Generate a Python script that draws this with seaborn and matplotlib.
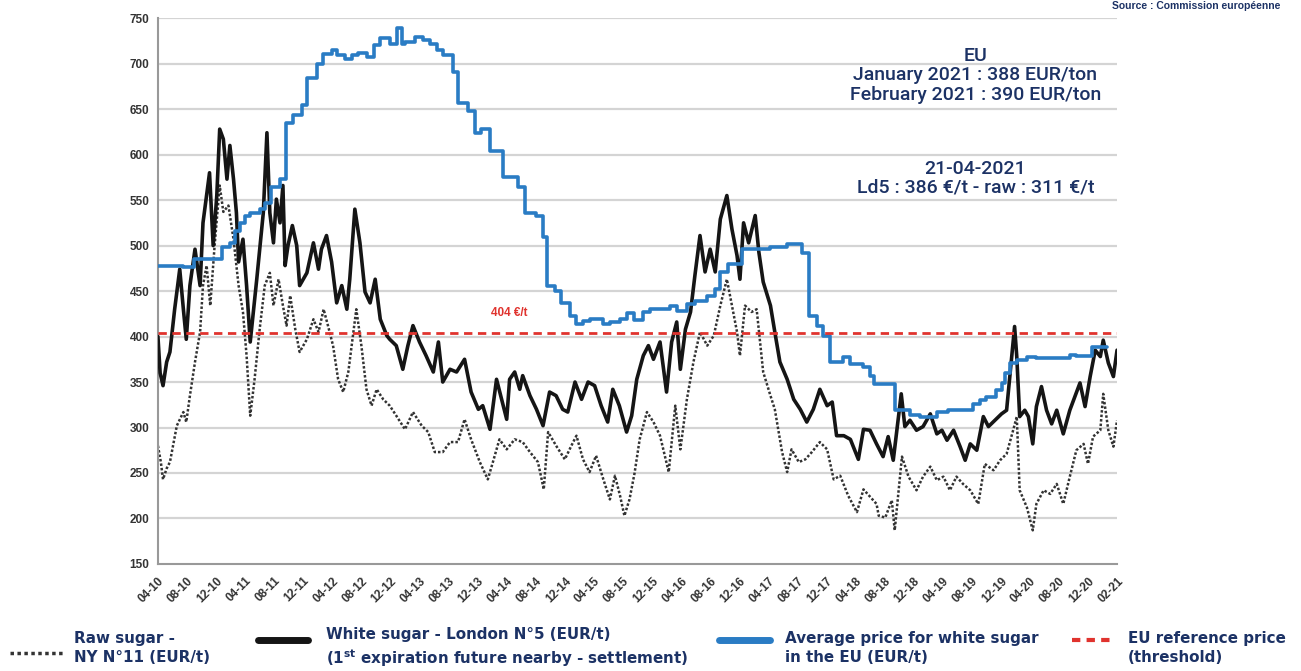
import matplotlib
matplotlib.use("Agg")
import matplotlib.pyplot as plt
import pandas as pd
import seaborn as sns
from matplotlib.lines import Line2D

# months since April 2010
white_month = [0, 0.3, 0.7, 1.2, 1.65, 2.3, 3, 3.5, 3.9, 4.4, 5.1, 5.8, 6.2, 7.1, 7.6, 8.1, 8.5, 9, 9.5, 9.9,
               10.4, 10.8, 11.1, 11.7, 12.2, 12.7, 13.6, 14.5, 15, 15.4, 15.9, 16.3, 16.8, 17.2, 17.5, 17.9,
               18.5, 19.1, 19.5, 20.5, 21.4, 22.1, 22.5, 23.2, 23.9, 24.6, 25.3, 26, 26.4, 27.1, 27.8, 28.5,
               29.2, 29.9, 30.6, 31.5, 31.9, 32.8, 33.7, 34.4, 35.1, 36, 36.9, 37.9, 38.6, 39.2, 40.2, 41.1,
               42.2, 43.1, 44.1, 44.7, 45.7, 46.6, 47.3, 48, 48.4, 49.1, 49.8, 50.2, 51.2, 52.1, 53, 53.9,
               54.8, 55.7, 56.4, 57.4, 58.3, 59.2, 60.1, 61, 61.9, 62.6, 63.5, 64.5, 65.2, 65.9, 66.8, 67.5,
               68.2, 69.1, 70, 70.7, 71.4, 71.9, 72.6, 73.3, 73.9, 74.6, 75.3, 76, 76.7, 77.4, 78.3, 79,
               79.7, 80.1, 80.6, 81.3, 82.2, 82.7, 83.3, 84.3, 84.9, 85.6, 86.6, 87.5, 88.4, 89.3, 90.2,
               91.1, 92.1, 92.8, 93.4, 94.4, 95.3, 96.4, 97.1, 98, 98.9, 99.8, 100.5, 101.2, 101.7, 102.3,
               102.8, 103.5, 104.4, 105.3, 106.3, 107.2, 107.9, 108.6, 109.5, 110.4, 111.1, 111.8, 112.7,
               113.6, 114.3, 115.2, 116.1, 116.8, 117.5, 117.9, 118.2, 118.6, 119.3, 119.8, 120.4, 120.9,
               121.6, 122.3, 123, 123.7, 124.6, 125.5, 126.2, 126.9, 127.6, 128.3, 129, 129.7, 130.1,
               130.8, 131.5, 132]
white_price = [400, 360, 346, 372, 383, 430, 474, 430, 397, 456, 496, 456, 525, 580, 500, 555, 628, 617, 573, 610,
               573, 536, 482, 507, 456, 394, 463, 536, 624, 536, 503, 551, 525, 566, 478, 500,
               522, 500, 456, 470, 503, 474, 496, 511, 482, 437, 456, 430, 463, 540, 503, 449,
               437, 463, 419, 401, 397, 390, 364, 390, 412, 394, 379, 361, 394, 350, 364, 361,
               375, 339, 320, 324, 298, 353, 331, 309, 353, 361, 342, 357, 335, 320, 302, 339,
               335, 320, 317, 350, 331, 350, 346, 324, 306, 342, 324, 295, 313, 353, 379, 390,
               375, 394, 339, 394, 416, 364, 408, 427, 467, 511, 471, 496, 471, 529, 555, 518,
               489, 463, 525, 503, 533, 493, 460, 434, 405, 372, 353, 331, 320, 306, 320,
               342, 324, 328, 291, 291, 287, 265, 298, 297, 282, 268, 290, 264, 297, 337,
               301, 308, 297, 301, 315, 293, 297, 286, 297, 279, 264, 282, 275,
               312, 301, 308, 315, 319, 378, 411, 378, 312, 319, 312, 282, 323,
               345, 319, 304, 319, 293, 319, 334, 349, 323, 356, 385, 378, 396,
               371, 356, 385]

raw_month = [0, 0.4, 0.7, 1.2, 1.65, 2.6, 3.5, 3.9, 4.4, 5.1, 5.8, 6.2, 6.7, 7.2, 7.8, 8.5, 9, 9.7, 10.4, 11.1,
             11.7, 12.2, 12.7, 13.3, 14, 14.7, 15.4, 15.9, 16.6, 17.2, 17.7, 18.2, 18.9, 19.5, 20.5, 21.4,
             22.1, 22.8, 23.4, 24.1, 24.8, 25.5, 26.2, 26.9, 27.3, 28, 28.7, 29.4, 30.1, 31, 31.9, 32.8,
             34, 35.1, 36.3, 37.2, 38.1, 39.2, 40.2, 41.3, 42.2, 43.1, 44.3, 45.4, 46.1, 47, 48, 49.1,
             50.2, 51.2, 52.3, 53.1, 53.7, 54.8, 56, 56.9, 57.6, 58.5, 59.4, 60.3, 61.3, 62.2, 62.9,
             63.6, 64.2, 64.9, 65.6, 66.3, 67.3, 68.2, 69.1, 70.3, 71.2, 71.9, 72.8, 73.7, 74.6, 75.6,
             76.5, 77.4, 78.3, 79, 79.7, 80.1, 80.8, 81.7, 82.4, 83.3, 84.3, 84.9, 85.9, 86.6, 87.2,
             88.2, 89.1, 90, 91.1, 92.1, 93, 93.9, 95, 96.2, 97.1, 98, 98.9, 99.2, 100.1, 101, 101.4,
             102.4, 103.3, 104.4, 105.3, 106.3, 107.2, 108.1, 109, 109.9, 110.8, 111.8, 112.9, 113.8,
             115, 115.9, 116.8, 117.7, 118.2, 118.6, 119.6, 120.4, 120.9, 121.9, 122.8, 123.7, 124.6,
             125.5, 126.4, 127.4, 128, 128.7, 129.7, 130.1, 130.8, 131.5, 132]
raw_price = [280, 262, 243, 255, 262, 302, 317, 306, 335, 372, 405, 456, 478, 434, 500, 566, 537, 544, 507, 456,
             427, 379, 313, 353, 408, 456, 470, 434, 463, 434, 412, 445, 408, 383, 397, 419,
             405, 430, 412, 390, 353, 339, 361, 405, 430, 390, 342, 324, 342, 331, 324, 313,
             298, 317, 302, 295, 273, 273, 284, 284, 309, 287, 262, 243, 262, 287, 276, 287,
             284, 273, 262, 232, 295, 280, 265, 280, 291, 265, 251, 269, 243, 221, 247,
             225, 203, 221, 250, 287, 317, 306, 291, 251, 324, 276, 331, 372, 405, 390,
             401, 434, 463, 434, 405, 379, 434, 427, 430, 361, 335, 320, 273, 251, 276,
             262, 265, 273, 284, 276, 243, 247, 225, 207, 232, 224, 216, 203, 201, 220, 187,
             268, 246, 231, 246, 257, 242, 246, 231, 246, 238, 231, 216, 260,
             253, 264, 271, 297, 312, 231, 212, 187, 216, 231, 227, 238, 216,
             246, 275, 282, 260, 290, 297, 337, 297, 279, 308]

# EU average price, monthly steps (value holds from the given month)
eu_month = [0, 2, 3.5, 5, 8.8, 9.9, 10.6, 11.3, 12, 12.7, 14, 14.7, 15.6, 16.8, 17.6, 18.6, 19.8, 20.5, 21.9,
            22.7, 23.9, 24.6, 25.7, 26.7, 27.6, 28.8, 29.7, 30.6, 31.9, 32.9, 33.6, 34, 35.4, 36.5, 37.4,
            38.4, 39.3, 40.6, 41.3, 42.7, 43.6, 44.5, 45.7, 47.5, 49.6, 50.5, 52.1, 53, 53.6, 54.6, 55.5,
            56.7, 57.6, 58.5, 59.4, 61.3, 62.2, 63.6, 64.5, 65.5, 66.8, 67.7, 70.5, 71.4, 72.8, 73.9, 75.6,
            76.7, 77.4, 78.5, 80.4, 84.2, 86.6, 88.7, 89.6, 90.7, 91.6, 92.5, 94.3, 95.2, 97.1, 98, 98.5,
            101.4, 103.5, 104.9, 107.2, 108.8, 112.2, 113.1, 114, 115.4, 116.1, 116.6, 117.3, 118.2,
            119.6, 120.9, 125.5, 126.4, 128.5, 130.6]
eu_price = [478, 477, 476, 485, 498, 503, 516, 525, 533, 536, 540, 547, 564, 573, 635, 643, 654, 684, 700,
            711, 715, 710, 705, 709, 712, 707, 720, 728, 722, 739, 722, 724, 729, 726, 722,
            715, 710, 691, 657, 648, 624, 628, 604, 575, 564, 536, 533, 509, 456, 450, 437,
            423, 414, 417, 419, 414, 416, 419, 426, 418, 427, 430, 434, 428, 436, 439, 445,
            452, 471, 480, 496, 498, 502, 492, 423, 412, 401, 372, 378, 370, 367, 357, 348,
            319, 314, 312, 317, 319, 326, 330, 334, 341, 349, 360, 371, 374,
            378, 376, 380, 379, 388, 388]

ref_price = 404

tick_months = list(range(0, 133, 4))
tick_labels = ['04-10', '08-10', '12-10', '04-11', '08-11', '12-11', '04-12', '08-12', '12-12',
               '04-13', '08-13', '12-13', '04-14', '08-14', '12-14', '04-15', '08-15', '12-15',
               '04-16', '08-16', '12-16', '04-17', '08-17', '12-17', '04-18', '08-18', '12-18',
               '04-19', '08-19', '12-19', '04-20', '08-20', '12-20', '02-21']

NAVY = '#1c3265'
BLUE = '#2a7cc4'
RED = '#e0332e'

sns.set_style('white')
plt.rcParams['font.family'] = ['Liberation Sans Narrow', 'Liberation Sans', 'DejaVu Sans']
plt.rcParams['mathtext.default'] = 'regular'

df_white = pd.DataFrame({'month': white_month, 'price': white_price})
df_raw = pd.DataFrame({'month': raw_month, 'price': raw_price})
df_eu = pd.DataFrame({'month': eu_month, 'price': eu_price})

fig = plt.figure(figsize=(13.01, 6.71), dpi=100)
ax = fig.add_axes([0.1214, 0.1595, 0.7372, 0.8135])

for y in range(200, 751, 50):
    ax.axhline(y, color='#d4d4d4', lw=1.6, zorder=0)

sns.lineplot(data=df_raw, x='month', y='price', ax=ax, color='#333333', lw=1.8,
             linestyle=(0, (1, 0.8)), sort=False, estimator=None, zorder=2)
sns.lineplot(data=df_white, x='month', y='price', ax=ax, color='#151515', lw=2.6,
             sort=False, estimator=None, zorder=3)
sns.lineplot(data=df_eu, x='month', y='price', ax=ax, color=BLUE, lw=2.6,
             drawstyle='steps-post', sort=False, estimator=None, zorder=4)
ax.axhline(ref_price, color=RED, lw=2, linestyle=(0, (3, 2)), zorder=5)

ax.text(48.3, 426, '404 €/t', color=RED, fontsize=8.5, ha='center', va='center', fontweight='bold')

ann_font = dict(ha='center', va='center', color=NAVY, fontsize=14, linespacing=1.1,
                fontweight='medium', family=['Roboto', 'DejaVu Sans'])
ax.text(112.5, 687, 'EU\nJanuary 2021 : 388 EUR/ton\nFebruary 2021 : 390 EUR/ton', **ann_font)
ax.text(112.5, 574, '21-04-2021\nLd5 : 386 €/t - raw : 311 €/t', **ann_font)

ax.set_xlim(0, 132)
ax.set_ylim(150, 750)
ax.set_yticks(range(150, 751, 50))
ax.set_xticks(tick_months)
ax.set_xticklabels(tick_labels, rotation=45, ha='right', rotation_mode='anchor')
ax.tick_params(axis='x', direction='in', length=3, color='#888888', labelsize=8.5,
               labelcolor='#333333', pad=8)
ax.tick_params(axis='y', direction='out', length=3, color='#888888', labelsize=8.5,
               labelcolor='#333333', pad=3)
for lab in ax.get_xticklabels() + ax.get_yticklabels():
    lab.set_fontweight('bold')
ax.set_xlabel('')
ax.set_ylabel('')
for side in ['top', 'right']:
    ax.spines[side].set_visible(False)
for side in ['left', 'bottom']:
    ax.spines[side].set_color('#999999')
    ax.spines[side].set_linewidth(1.5)

# legend drawn along the bottom
leg_font = dict(color=NAVY, fontsize=10.9, va='center', ha='left', linespacing=1.35,
                fontweight='bold', family=['Liberation Sans Narrow', 'DejaVu Sans'])
fig.add_artist(Line2D([0.008, 0.049], [0.027, 0.027], transform=fig.transFigure,
                      color='#333333', lw=2.5, linestyle=(0, (1, 1))))
fig.text(0.057, 0.034, 'Raw sugar -\nNY N°11 (EUR/t)', **leg_font)
fig.add_artist(Line2D([0.198, 0.237], [0.046, 0.046], transform=fig.transFigure,
                      color='#151515', lw=5))
fig.text(0.2506, 0.034, 'White sugar - London N°5 (EUR/t)\n(1$^{st}$ expiration future nearby - settlement)',
         **leg_font)
fig.add_artist(Line2D([0.553, 0.592], [0.046, 0.046], transform=fig.transFigure,
                      color=BLUE, lw=5))
fig.text(0.603, 0.034, 'Average price for white sugar\nin the EU (EUR/t)', **leg_font)
fig.add_artist(Line2D([0.824, 0.856], [0.046, 0.046], transform=fig.transFigure,
                      color=RED, lw=3, linestyle=(0, (2, 1.5))))
fig.text(0.867, 0.034, 'EU reference price\n(threshold)', **leg_font)

fig.text(0.984, 0.998, 'Source : Commission européenne', ha='right', va='top',
         color=NAVY, fontsize=7.5, fontweight='bold')

fig.savefig('out.png', dpi=100)
